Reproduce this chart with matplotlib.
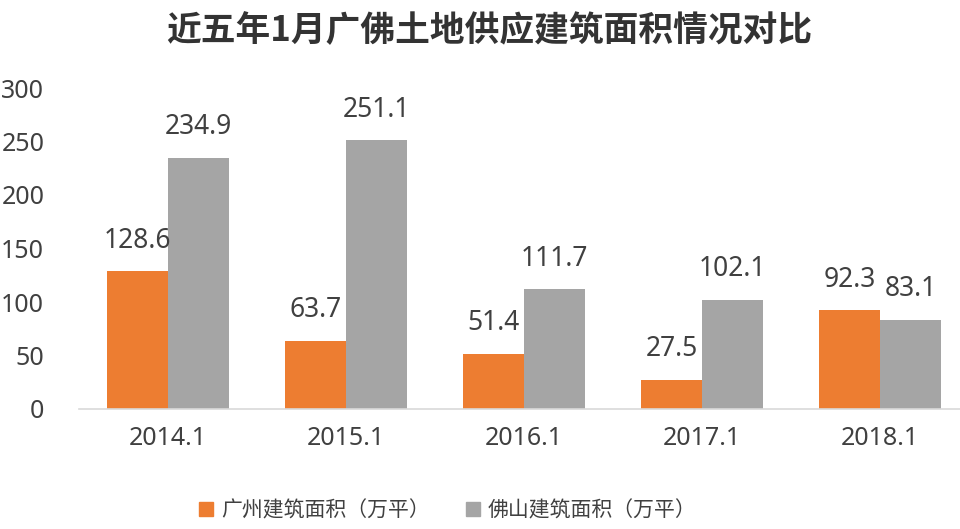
import matplotlib
matplotlib.use("Agg")
import matplotlib.pyplot as plt
import numpy as np
from matplotlib.lines import Line2D

categories = ["2014.1", "2015.1", "2016.1", "2017.1", "2018.1"]
guangzhou = [128.6, 63.7, 51.4, 27.5, 92.3]
foshan = [234.9, 251.1, 111.7, 102.1, 83.1]
series_names = ["广州建筑面积（万平）", "佛山建筑面积（万平）"]
title = "近五年1月广佛土地供应建筑面积情况对比"
yticks = [0, 50, 100, 150, 200, 250, 300]

plt.rcParams['font.family'] = ['Noto Sans CJK SC', 'DejaVu Sans']

ORANGE = "#ED7D31"
GRAY = "#A5A5A5"
TXT = "#404040"
NUMFONT = ['Noto Sans', 'DejaVu Sans']

fig = plt.figure(figsize=(9.6, 5.29), dpi=100)
ax = fig.add_axes([79/960, (529-409)/529, 890/960, (409-88)/529])

x = np.arange(len(categories))
w = 0.343
b1 = ax.bar(x - w/2, guangzhou, w, color=ORANGE)
b2 = ax.bar(x + w/2, foshan, w, color=GRAY)

for bars, vals in ((b1, guangzhou), (b2, foshan)):
    for r, v in zip(bars, vals):
        ax.annotate(f"{v:.1f}", (r.get_x() + r.get_width()/2, v),
                    xytext=(0, 12), textcoords="offset points",
                    ha="center", va="bottom", fontsize=19, color=TXT,
                    family=NUMFONT)

ax.set_xlim(-0.5, len(categories) - 0.5)
ax.set_ylim(0, 300)
ax.set_yticks(yticks)
ax.set_yticklabels([str(t) for t in yticks], family=NUMFONT)
ax.set_xticks(x)
ax.set_xticklabels(categories, family=NUMFONT)
ax.tick_params(axis='both', length=0, labelsize=18, colors=TXT)
ax.tick_params(axis='y', pad=25)
ax.tick_params(axis='x', pad=12)
for s in ("top", "right", "left"):
    ax.spines[s].set_visible(False)
ax.spines["bottom"].set_color("#D9D9D9")
ax.spines["bottom"].set_linewidth(1.2)

fig.text(0.51, 0.942, title, ha="center", va="center", fontsize=25,
         fontweight="bold", color="#333333")

handles = [Line2D([], [], marker='s', linestyle='none', markersize=10, color=ORANGE),
           Line2D([], [], marker='s', linestyle='none', markersize=10, color=GRAY)]
fig.legend(handles, series_names, loc="center", bbox_to_anchor=(0.465, 0.035),
           ncol=2, frameon=False, fontsize=15, handletextpad=0.2,
           columnspacing=1.6, labelcolor=TXT, handlelength=1.0)

fig.savefig("out.png", dpi=100, facecolor="white")
